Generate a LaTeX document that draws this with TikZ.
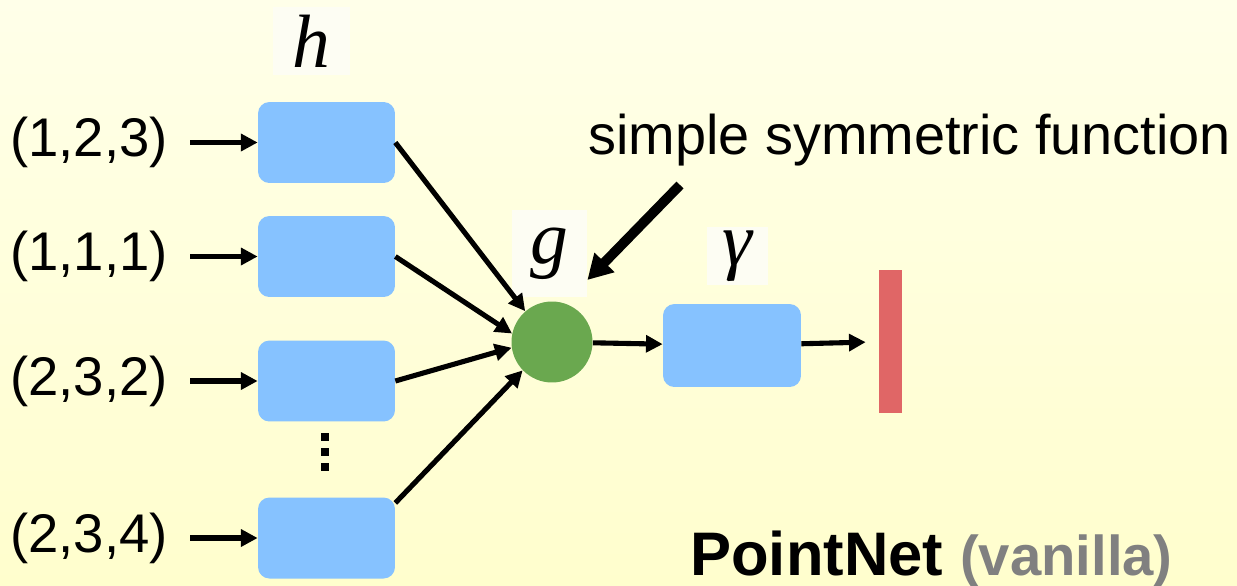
\documentclass[tikz,border=0pt]{standalone}
\usepackage{fontspec}
\setmainfont{Liberation Sans}
\newfontfamily\timesfont{Liberation Serif}
\usetikzlibrary{positioning}
\usetikzlibrary{arrows.meta}
\usetikzlibrary{calc}

\definecolor{boxblue}{RGB}{134,194,255}
\definecolor{gnode}{RGB}{106,168,79}
\definecolor{outred}{RGB}{224,102,102}
\definecolor{bgtop}{RGB}{255,255,233}
\definecolor{bgbot}{RGB}{255,254,205}
\definecolor{labwhite}{RGB}{253,253,243}

\begin{document}
\begin{tikzpicture}[x=0.02cm, y=-0.02cm,
  every node/.style={inner sep=0pt},
  mlp/.style={fill=boxblue, rounded corners=6.5pt, minimum width=2.74cm, minimum height=1.62cm},
  pts/.style={font=\fontsize{31}{36}\selectfont, anchor=east, inner xsep=0.44cm},
  fname/.style={fill=labwhite, font=\timesfont\itshape\fontsize{43}{43}\selectfont},
  arr/.style={line width=2.9pt, -{Triangle[length=9.5pt,width=9.5pt]}},
  bigarr/.style={line width=5.6pt, -{Triangle[length=14pt,width=15pt]}}
]

% background
\shade[top color=bgtop, bottom color=bgbot] (0,0) rectangle (1237,585);
\useasboundingbox (0,0) rectangle (1237,585);

% shared mlp h
\node[fname, minimum width=1.54cm, minimum height=1.36cm] (hlab) at (311.5,41) {h};
\node[mlp] (h1) at (326.5,142.5) {};
\node[mlp] (h2) at (326.5,256.5) {};
\node[mlp] (h3) at (326.5,381) {};
\node[mlp] (h4) at (326.5,538) {};
\foreach \k in {0,1,2}
  \fill (321,433+\k*15) rectangle ++(8,8);

% input points
\node[pts] (in1) at (190,142.5) {(1,2,3)};
\node[pts] (in2) at (190,256.5) {(1,1,1)};
\node[pts] (in3) at (190,381) {(2,3,2)};
\node[pts] (in4) at (190,538) {(2,3,4)};

\draw[arr] (in1) -- (h1);
\draw[arr] (in2) -- (h2);
\draw[arr] (in3) -- (h3);
\draw[arr] (in4) -- (h4);

% symmetric function g
\node[fname, minimum width=1.5cm, minimum height=1.74cm] (glab) at (549.5,253.5) {g};
\node[circle, fill=gnode, minimum size=1.62cm] (g) at (552,342) {};

\draw[arr] (h1.east) -- (g.131);
\draw[arr] (h2.east) -- (g.168);
\draw[arr] (h3.east) -- (g.188);
\draw[arr] (h4.27) -- (g.224);

\node[anchor=base west, font=\fontsize{31.8}{36}\selectfont] (symtext) at (588,154) {simple symmetric function};
\coordinate (symtail) at (680,185);
\draw[bigarr] (symtail) -- (glab.-35);

% gamma and output
\node[fname, minimum width=1.22cm, minimum height=1.16cm] (gamlab) at (737.5,256) {γ};
\node[mlp, minimum width=2.76cm, minimum height=1.66cm] (gam) at (732,345.5) {};
\node[fill=outred, minimum width=0.46cm, minimum height=2.86cm] (out) at (890.5,341.5) {};

\draw[arr] (g) -- (gam);
\draw[arr, shorten >=0.26cm] (gam) -- (out);

\node[anchor=base west] (title) at (690,575)
  {\fontsize{35}{40}\selectfont\bfseries PointNet {\fontsize{32}{36}\selectfont\color{gray}(vanilla)}};

\end{tikzpicture}
\end{document}
